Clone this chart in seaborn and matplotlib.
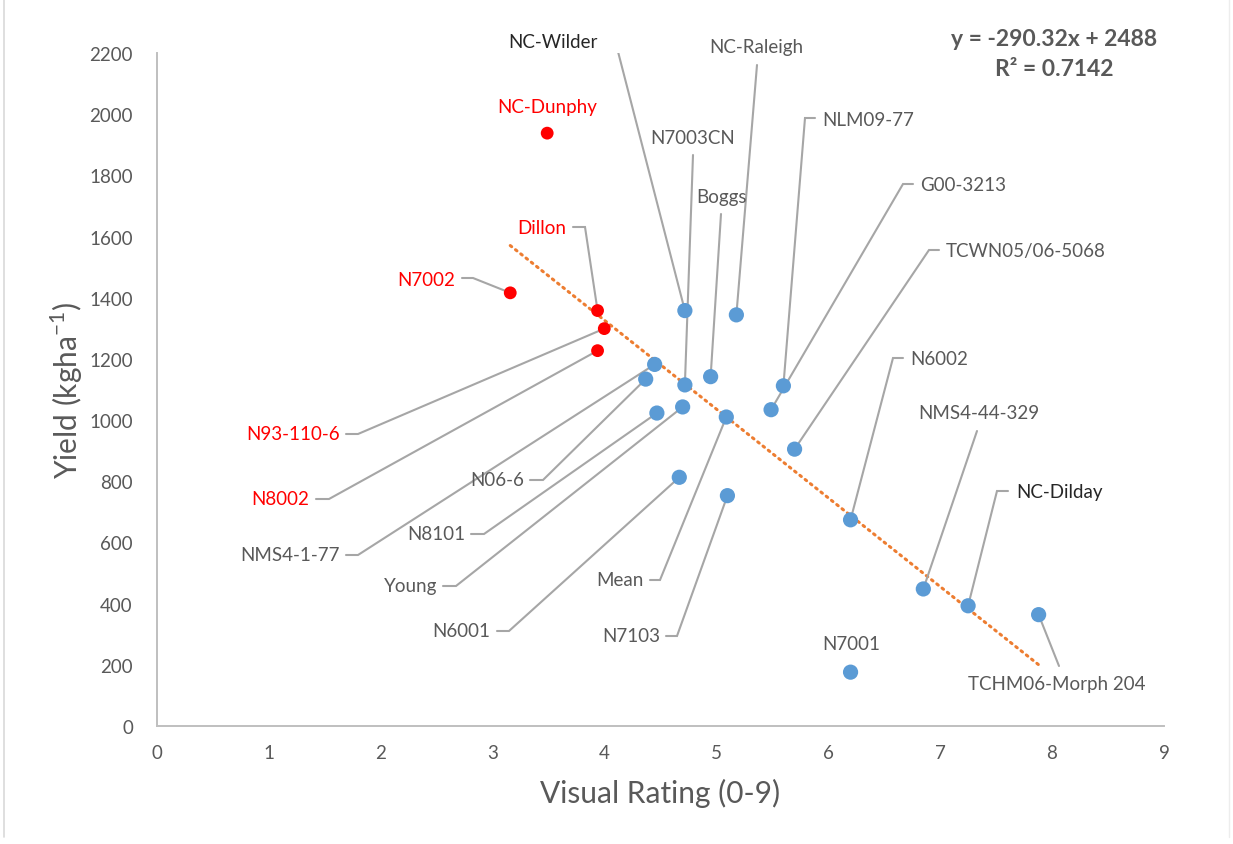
import numpy as np
import pandas as pd
import matplotlib
matplotlib.use("Agg")
import matplotlib.pyplot as plt
import seaborn as sns

# ---- data ----
cultivars = ["NC-Dunphy", "N7002", "Dillon", "N93-110-6", "N8002",
             "NC-Wilder", "NC-Raleigh", "NMS4-1-77", "N06-6", "Boggs",
             "N7003CN", "NLM09-77", "G00-3213", "N8101", "Young", "Mean",
             "TCWN05/06-5068", "N6001", "N7103", "N6002", "NMS4-44-329",
             "NC-Dilday", "TCHM06-Morph 204", "N7001"]
visual_rating = [3.49, 3.16, 3.94, 4.00, 3.94,
                 4.72, 5.18, 4.45, 4.37, 4.95,
                 4.72, 5.60, 5.49, 4.47, 4.70, 5.09,
                 5.70, 4.67, 5.10, 6.20, 6.85,
                 7.25, 7.88, 6.20]
yield_kg = [1938, 1416, 1358, 1299, 1227,
            1358, 1344, 1182, 1134, 1142,
            1115, 1112, 1034, 1023, 1043, 1010,
            905, 813, 753, 674, 448,
            393, 364, 176]
group = ["high"] * 5 + ["other"] * 19

slope, intercept = -290.32, 2488
r_squared = 0.7142

df = pd.DataFrame({"cultivar": cultivars, "rating": visual_rating,
                   "yield": yield_kg, "group": group})

# ---- styling ----
sns.set_theme(style="white")
plt.rcParams["font.family"] = ["Lato", "DejaVu Sans"]

W, H = 1233, 845
fig = plt.figure(figsize=(W / 100, H / 100), dpi=100)
ax = fig.add_axes([156.5 / W, (H - 727) / H, (1164 - 156.5) / W, (727 - 54) / H])

TXT = "#595959"
RED = "#FF0000"
BLUE = "#5B9BD5"
LEAD = "#A6A6A6"

ax.set_xlim(0, 9)
ax.set_ylim(0, 2200)
ax.set_xticks(range(0, 10))
ax.set_yticks(range(0, 2201, 200))
ax.tick_params(axis="x", length=0, labelsize=13.5, colors=TXT, pad=13)
ax.tick_params(axis="y", length=0, labelsize=13.5, colors=TXT, pad=17)
for s in ["top", "right"]:
    ax.spines[s].set_visible(False)
for s in ["left", "bottom"]:
    ax.spines[s].set_color("#BFBFBF")
    ax.spines[s].set_linewidth(1.4)

# trend line over the range of ratings
xs = np.array([min(visual_rating), max(visual_rating)])
ax.plot(xs, slope * xs + intercept, color="#ED7D31", lw=2.2,
        linestyle=(0, (0.6, 1.6)), dash_capstyle="round", zorder=2)

sns.scatterplot(data=df, x="rating", y="yield", hue="group",
                palette={"high": RED, "other": BLUE}, s=110,
                edgecolor="none", legend=False, ax=ax, zorder=3)
# red points are a bit smaller
ax.collections[-1].set_sizes([85 if g == "high" else 120 for g in group])

ax.set_xlabel("Visual Rating (0-9)", fontsize=21.5, color=TXT, labelpad=12)
ax.set_ylabel("Yield (kgha$^{\\mathregular{-1}}$)", fontsize=21.5, color=TXT,
              labelpad=3)

# ---- labels with leader lines (layout in figure pixels, y from top) ----
# name: (text x, text y, ha, knee points)
layout = {
    "NC-Wilder": (598, 43, "right", [(605, 41), (615, 41)]),
    "NC-Raleigh": (756, 48, "center", [(757, 66)]),
    "NC-Dunphy": (547, 107, "center", []),
    "N7003CN": (693, 138, "center", [(693, 156)]),
    "NLM09-77": (822, 120, "left", [(815, 119), (805, 119)]),
    "G00-3213": (920, 186, "left", [(913, 185), (903, 185)]),
    "Boggs": (722, 198, "center", [(721, 215)]),
    "Dillon": (566, 229, "right", [(573, 228), (585, 228)]),
    "TCWN05/06-5068": (946, 252, "left", [(939, 251), (929, 251)]),
    "N7002": (455, 281, "right", [(462, 279), (473, 279)]),
    "N6002": (910, 360, "left", [(903, 359), (893, 359)]),
    "NMS4-44-329": (979, 414, "center", [(977, 432)]),
    "N93-110-6": (340, 435, "right", [(346, 435), (358, 435)]),
    "N06-6": (524, 481, "right", [(530, 481), (543, 481)]),
    "NC-Dilday": (1016, 493, "left", [(1008, 492), (997, 492)]),
    "N8002": (309, 500, "right", [(316, 500), (329, 500)]),
    "N8101": (465, 535, "right", [(471, 535), (484, 535)]),
    "NMS4-1-77": (340, 556, "right", [(346, 556), (358, 556)]),
    "Mean": (644, 581, "right", [(650, 581), (660, 581)]),
    "Young": (437, 587, "right", [(443, 587), (456, 587)]),
    "N6001": (490, 632, "right", [(497, 632), (509, 632)]),
    "N7103": (660, 637, "right", [(666, 637), (677, 637)]),
    "N7001": (851, 645, "center", []),
    "TCHM06-Morph 204": (1057, 685, "center", [(1059, 667)]),
}
dark_labels = {"NC-Wilder", "NC-Dilday"}

fig.canvas.draw()
inv = ax.transData.inverted()


def to_data(px, py):
    return inv.transform((px, H - py))


for name, x, y, g in zip(cultivars, visual_rating, yield_kg, group):
    tx, ty, ha, knees = layout[name]
    color = RED if g == "high" else ("#262626" if name in dark_labels else TXT)
    dx, dy = to_data(tx, ty)
    ax.text(dx, dy, name, ha=ha, va="center", fontsize=13.5, color=color,
            zorder=5)
    if knees:
        pts = [to_data(kx, ky) for kx, ky in knees] + [(x, y)]
        pts = np.array(pts)
        ax.plot(pts[:, 0], pts[:, 1], color=LEAD, lw=1.5, zorder=2.5,
                solid_joinstyle="miter")

# regression equation
ex, ey = to_data(1054, 40)
ax.text(ex, ey, f"y = {slope}x + {intercept}", ha="center", va="center",
        fontsize=16.5, fontweight="bold", color=TXT)
ex, ey = to_data(1054, 70)
ax.text(ex, ey, f"R\u00b2 = {r_squared}", ha="center", va="center",
        fontsize=16.5, fontweight="bold", color=TXT)

# chart-area border
fig.add_artist(plt.Line2D([4 / W, 4 / W], [(H - 838) / H, 1], color="#D9D9D9", lw=1.2))
fig.add_artist(plt.Line2D([1229 / W, 1229 / W], [(H - 838) / H, 1], color="#EDEDED", lw=1.0))

fig.savefig("out.png", dpi=100, facecolor="white")
